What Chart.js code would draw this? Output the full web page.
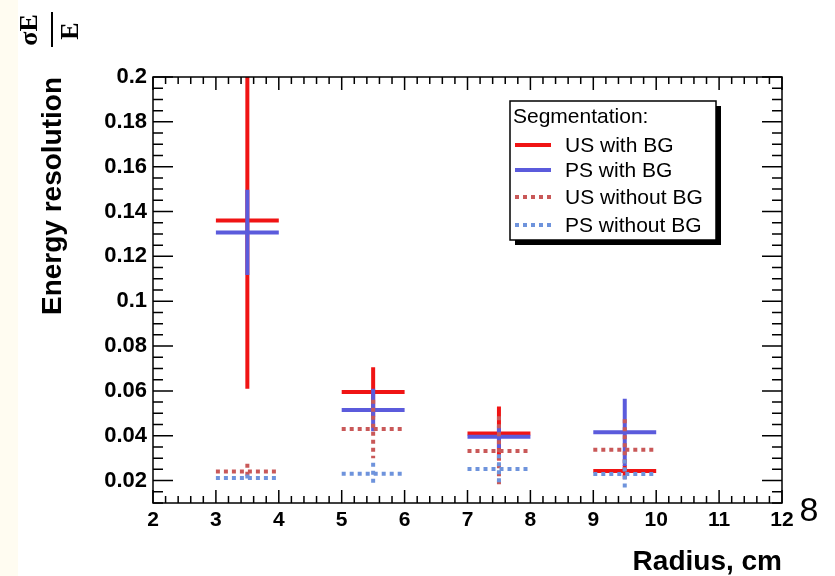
<!DOCTYPE html>
<html>
<head>
<meta charset="utf-8">
<script src="https://cdn.jsdelivr.net/npm/chart.js@4.4.1/dist/chart.umd.min.js"></script>
<style>
  html, body { margin: 0; padding: 0; background: #ffffff; }
  #wrap { position: relative; width: 835px; height: 576px; }
</style>
</head>
<body>
<div id="wrap"><canvas id="resolution" width="835" height="576"></canvas></div>
<script>
// bins in radius, horizontal error = half bin width
const radius = [3.5, 5.5, 7.5, 9.5];
const radiusErr = [0.5, 0.5, 0.5, 0.5];

const usWithBG = [0.136, 0.0595, 0.041, 0.0243];
const usWithBGErr = [0.075, 0.011, 0.012, 0.0025];
const psWithBG = [0.1307, 0.0515, 0.0395, 0.0415];
const psWithBGErr = [0.019, 0.0095, 0.005, 0.015];
const usNoBG = [0.024, 0.0430, 0.0332, 0.0338];
const usNoBGErr = [0.0035, 0.013, 0.0155, 0.0135];
const psNoBG = [0.0212, 0.0230, 0.0252, 0.0229];
const psNoBGErr = [0.0015, 0.005, 0.0065, 0.0065];

const seriesLabels = ['US with BG', 'PS with BG', 'US without BG', 'PS without BG'];
const xTicks = [2, 3, 4, 5, 6, 7, 8, 9, 10, 11, 12];
const yTicks = [0.02, 0.04, 0.06, 0.08, 0.1, 0.12, 0.14, 0.16, 0.18, 0.2];

function points(ys, yerr) {
    return radius.map((x, i) => ({ x: x, y: ys[i], xe: radiusErr[i], ye: yerr[i] }));
}

function series(label, ys, yerr, color, dash) {
    return {
        label: label,
        data: points(ys, yerr),
        borderColor: color,
        backgroundColor: color,
        borderWidth: 4,
        borderDash: dash,
        pointRadius: 0,
        showLine: false
    };
}

// ROOT style error bars
const errorBars = {
    id: 'errorBars',
    afterDatasetsDraw(chart) {
        const ctx = chart.ctx;
        const xs = chart.scales.x, ys = chart.scales.y;
        const a = chart.chartArea;
        ctx.save();
        ctx.beginPath();
        ctx.rect(a.left, a.top, a.right - a.left, a.bottom - a.top);
        ctx.clip();
        chart.data.datasets.forEach(ds => {
            ctx.strokeStyle = ds.borderColor;
            ctx.lineWidth = ds.borderWidth;
            ctx.setLineDash(ds.borderDash || []);
            ctx.lineCap = 'butt';
            ds.data.forEach(p => {
                const px = xs.getPixelForValue(p.x);
                const py = ys.getPixelForValue(p.y);
                ctx.beginPath();
                ctx.moveTo(xs.getPixelForValue(p.x - p.xe), py);
                ctx.lineTo(xs.getPixelForValue(p.x + p.xe), py);
                ctx.moveTo(px, ys.getPixelForValue(p.y + p.ye));
                ctx.lineTo(px, ys.getPixelForValue(p.y - p.ye));
                ctx.stroke();
            });
        });
        ctx.restore();
    }
};

// frame with inward ticks on all four sides
const frame = {
    id: 'frame',
    afterDraw(chart) {
        const ctx = chart.ctx;
        const xs = chart.scales.x, ys = chart.scales.y;
        const a = chart.chartArea;
        ctx.save();
        ctx.strokeStyle = '#000';
        ctx.lineWidth = 1.5;
        ctx.setLineDash([]);
        ctx.strokeRect(a.left, a.top, a.right - a.left, a.bottom - a.top);
        ctx.beginPath();
        for (let v = xs.min; v <= xs.max + 1e-9; v += 0.2) {
            const px = xs.getPixelForValue(v);
            const major = Math.abs(v - Math.round(v)) < 1e-6;
            const len = major ? 13 : 7;
            ctx.moveTo(px, a.bottom); ctx.lineTo(px, a.bottom - len);
            ctx.moveTo(px, a.top); ctx.lineTo(px, a.top + len);
        }
        for (let v = ys.min; v <= ys.max + 1e-9; v += 0.005) {
            const py = ys.getPixelForValue(v);
            const major = Math.abs(v / 0.02 - Math.round(v / 0.02)) < 1e-6;
            const len = major ? 20 : 10;
            ctx.moveTo(a.left, py); ctx.lineTo(a.left + len, py);
            ctx.moveTo(a.right, py); ctx.lineTo(a.right - len, py);
        }
        ctx.stroke();
        ctx.restore();
    }
};

// legend box, sigma/E label, stray "8"
const decorations = {
    id: 'decorations',
    beforeDraw(chart) {
        const ctx = chart.ctx;
        ctx.save();
        ctx.fillStyle = '#fffcf1';
        ctx.fillRect(0, 0, 18, 576);
        ctx.restore();
    },
    afterDraw(chart) {
        const ctx = chart.ctx;
        ctx.save();
        // legend
        const bx = 510, by = 101, bw = 206, bh = 139;
        ctx.fillStyle = '#000';
        ctx.fillRect(bx + 5, by + 5, bw, bh);
        ctx.fillStyle = '#fff';
        ctx.fillRect(bx, by, bw, bh);
        ctx.strokeStyle = '#000';
        ctx.lineWidth = 1.5;
        ctx.strokeRect(bx, by, bw, bh);
        ctx.fillStyle = '#000';
        ctx.font = '21px "Liberation Sans", Arial, sans-serif';
        ctx.textBaseline = 'middle';
        ctx.textAlign = 'left';
        ctx.fillText('Segmentation:', 513, 117);
        const rows = [145, 170, 197, 225];
        chart.data.datasets.forEach((ds, i) => {
            ctx.strokeStyle = ds.borderColor;
            ctx.lineWidth = ds.borderWidth;
            ctx.setLineDash(ds.borderDash || []);
            ctx.beginPath();
            ctx.moveTo(515, rows[i]);
            ctx.lineTo(551, rows[i]);
            ctx.stroke();
            ctx.setLineDash([]);
            ctx.fillStyle = '#000';
            ctx.fillText(ds.label, 565, rows[i] + 1);
        });
        // sigma E / E, rotated
        ctx.fillStyle = '#000';
        ctx.font = 'bold 26px "Liberation Serif", "DejaVu Serif", serif';
        ctx.textAlign = 'center';
        ctx.textBaseline = 'middle';
        ctx.save();
        ctx.translate(30, 30);
        ctx.rotate(-Math.PI / 2);
        ctx.fillText('σE', 0, 0);
        ctx.restore();
        ctx.save();
        ctx.translate(71, 31);
        ctx.rotate(-Math.PI / 2);
        ctx.fillText('E', 0, 0);
        ctx.restore();
        ctx.fillRect(51, 12, 2, 35);
        // stray label at bottom right
        ctx.font = '34px "Liberation Sans", Arial, sans-serif';
        ctx.fillText('8', 809, 512);
        ctx.restore();
    }
};

const config = {
    type: 'scatter',
    data: {
        datasets: [
            series(seriesLabels[0], usWithBG, usWithBGErr, '#f01414', []),
            series(seriesLabels[1], psWithBG, psWithBGErr, '#5b5bdc', []),
            series(seriesLabels[2], usNoBG, usNoBGErr, '#c95858', [4, 4]),
            series(seriesLabels[3], psNoBG, psNoBGErr, '#6e93dc', [4, 4])
        ]
    },
    options: {
        responsive: false,
        animation: false,
        layout: { padding: { top: 77, right: 53, left: 0, bottom: 0 } },
        plugins: {
            legend: { display: false },
            tooltip: { enabled: false }
        },
        scales: {
            x: {
                type: 'linear',
                min: 2,
                max: 12,
                afterBuildTicks: s => { s.ticks = xTicks.map(v => ({ value: v })); },
                afterFit: s => { s.height = 73; },
                grid: { display: false, drawTicks: false },
                border: { display: false },
                ticks: {
                    color: '#000',
                    padding: 5,
                    maxRotation: 0,
                    font: { family: '"Liberation Sans", Arial, sans-serif', size: 21, weight: 'bold' }
                },
                title: {
                    display: true,
                    text: 'Radius, cm',
                    align: 'end',
                    color: '#000',
                    padding: 0,
                    font: { family: '"Liberation Sans", Arial, sans-serif', size: 28, weight: 'bold', lineHeight: 1 }
                }
            },
            y: {
                type: 'linear',
                min: 0.01,
                max: 0.2,
                afterBuildTicks: s => { s.ticks = yTicks.map(v => ({ value: v })); },
                afterFit: s => { s.width = 153; },
                grid: { display: false, drawTicks: false },
                border: { display: false },
                ticks: {
                    color: '#000',
                    padding: 6,
                    callback: v => String(+v.toFixed(3)),
                    font: { family: '"Liberation Sans", Arial, sans-serif', size: 22, weight: 'bold' }
                },
                title: {
                    display: true,
                    text: 'Energy resolution',
                    align: 'end',
                    color: '#000',
                    padding: { top: 39, bottom: 0 },
                    font: { family: '"Liberation Sans", Arial, sans-serif', size: 28, weight: 'bold', lineHeight: 1 }
                }
            }
        }
    },
    plugins: [decorations, errorBars, frame]
};

const context = document.getElementById('resolution').getContext('2d');
const resolutionChart = new Chart(context, config);
</script>
</body>
</html>
